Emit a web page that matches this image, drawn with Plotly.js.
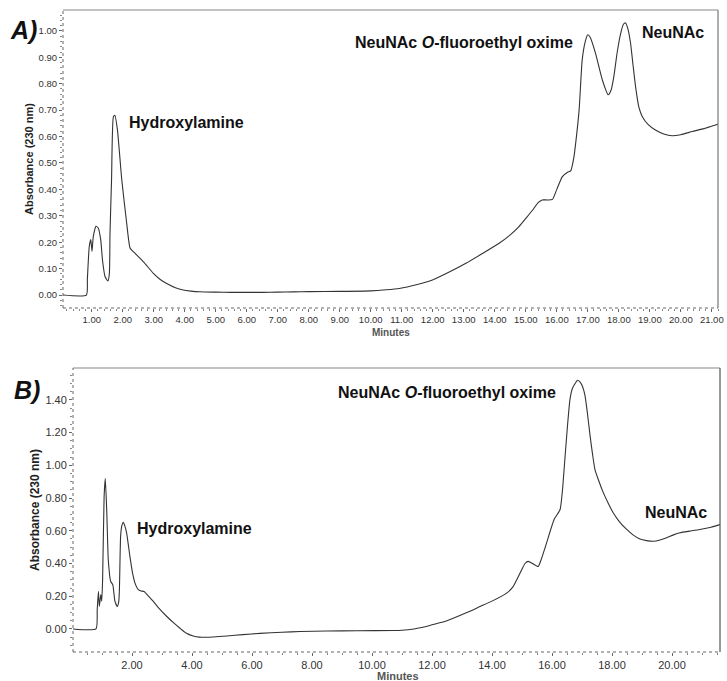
<!DOCTYPE html>
<html>
<head>
<meta charset="utf-8">
<script src="https://cdn.plot.ly/plotly-3.0.1.min.js"></script>
<style>html,body{margin:0;padding:0;background:#fff;}#chart{width:727px;height:681px;}</style>
</head>
<body>
<div id="chart"></div>
<script>
// Panel A chromatogram (minutes, absorbance)
const timeA = [0.07,0.83,0.86,0.92,0.97,1.01,1.05,1.14,1.21,1.29,1.35,1.43,1.52,1.57,1.59,1.64,1.70,1.75,1.83,1.97,2.13,2.24,2.40,2.67,2.99,3.2,3.42,3.7,3.95,4.2,4.49,5.0,5.5,6.0,6.5,7.0,7.5,8.0,9.0,10.0,10.5,10.92,11.5,11.99,12.5,13.07,13.6,14.14,14.5,14.78,15.0,15.21,15.4,15.53,15.7,15.86,16.0,16.18,16.35,16.45,16.55,16.61,16.72,16.82,16.92,17.0,17.08,17.25,17.47,17.66,17.75,17.84,17.95,18.06,18.15,18.22,18.3,18.38,18.46,18.54,18.65,18.76,18.95,19.18,19.45,19.72,20.0,20.37,20.75,21.12,21.2];
const absA = [0,0,0.06,0.183,0.21,0.165,0.22,0.26,0.254,0.21,0.13,0.07,0.053,0.082,0.234,0.436,0.675,0.68,0.625,0.436,0.27,0.177,0.158,0.126,0.082,0.06,0.044,0.028,0.019,0.015,0.0125,0.011,0.010,0.010,0.010,0.011,0.012,0.013,0.014,0.016,0.02,0.025,0.04,0.057,0.085,0.12,0.157,0.196,0.228,0.259,0.29,0.32,0.35,0.36,0.36,0.362,0.40,0.448,0.465,0.47,0.52,0.575,0.70,0.89,0.96,0.985,0.975,0.915,0.814,0.758,0.775,0.827,0.92,0.99,1.025,1.03,1.005,0.953,0.87,0.79,0.71,0.675,0.645,0.625,0.61,0.603,0.607,0.619,0.63,0.644,0.647];

// Panel B chromatogram
const timeB = [0.03,0.8,0.84,0.88,0.91,0.96,0.99,1.02,1.07,1.11,1.16,1.21,1.29,1.36,1.43,1.51,1.56,1.58,1.62,1.66,1.71,1.76,1.82,1.93,2.02,2.10,2.21,2.30,2.40,2.55,2.71,2.9,3.16,3.4,3.6,3.8,4.04,4.25,4.49,5.16,5.7,6.27,7.0,7.6,8.5,9.5,10.71,11.0,11.4,11.7,12.0,12.5,13.16,13.6,14.0,14.49,14.71,14.85,14.99,15.1,15.21,15.35,15.54,15.65,15.82,16.07,16.27,16.35,16.43,16.52,16.6,16.68,16.77,16.85,16.93,17.02,17.1,17.18,17.27,17.35,17.43,17.57,17.71,17.87,18.04,18.25,18.49,18.7,18.93,19.15,19.38,19.6,19.82,20.05,20.27,20.6,20.93,21.3,21.6];
const absB = [0,0,0.117,0.23,0.137,0.21,0.17,0.30,0.81,0.92,0.71,0.42,0.29,0.27,0.17,0.137,0.17,0.24,0.566,0.63,0.652,0.63,0.587,0.444,0.34,0.28,0.24,0.232,0.229,0.2,0.168,0.125,0.076,0.035,0.004,-0.025,-0.043,-0.05,-0.051,-0.043,-0.035,-0.027,-0.02,-0.016,-0.013,-0.011,-0.01,-0.008,0.0,0.01,0.025,0.05,0.1,0.137,0.17,0.219,0.26,0.31,0.362,0.40,0.413,0.40,0.382,0.43,0.526,0.669,0.73,0.85,1.04,1.25,1.405,1.47,1.50,1.52,1.51,1.48,1.426,1.32,1.18,1.07,0.976,0.9,0.833,0.77,0.71,0.655,0.608,0.575,0.55,0.54,0.536,0.544,0.557,0.575,0.588,0.598,0.608,0.622,0.638];

const W = 727, H = 681;
const px = v => v / W;
const py = v => 1 - v / H;

const tickFont = {family: 'Liberation Sans, Arial, sans-serif', size: 9.5, color: '#333'};
const tickFontB = {family: 'Liberation Sans, Arial, sans-serif', size: 11, color: '#333'};
const lblFont = {family: 'Liberation Sans, Arial, sans-serif', size: 16, color: '#111', weight: 'bold'};

const traces = [
  {x: timeA, y: absA, xaxis: 'x', yaxis: 'y', mode: 'lines', line: {color: '#333', width: 1.1, shape: 'spline', smoothing: 0.5}, hoverinfo: 'skip'},
  {x: timeB, y: absB, xaxis: 'x2', yaxis: 'y2', mode: 'lines', line: {color: '#333', width: 1.1, shape: 'spline', smoothing: 0.5}, hoverinfo: 'skip'}
];

const axCommon = {showgrid: false, zeroline: false, showline: false, ticks: 'outside', tickcolor: '#666', ticklen: 3, tickwidth: 1, tickformat: '.2f'};

const layout = {
  width: W, height: H,
  margin: {l: 0, r: 0, t: 0, b: 0},
  paper_bgcolor: '#fff', plot_bgcolor: '#fff',
  showlegend: false,
  xaxis: Object.assign({}, axCommon, {domain: [px(63), px(718)], range: [0.074, 21.2], tick0: 0, dtick: 1, tickfont: tickFont, anchor: 'y',
    minor: {dtick: 0.2, ticks: 'outside', ticklen: 2, tickcolor: '#888'}}),
  yaxis: Object.assign({}, axCommon, {domain: [py(308), py(10)], range: [-0.049, 1.079], tick0: 0, dtick: 0.1, tickfont: tickFont, anchor: 'x',
    minor: {dtick: 0.02, ticks: 'outside', ticklen: 2, tickcolor: '#888'}}),
  xaxis2: Object.assign({}, axCommon, {domain: [px(73), px(720)], range: [0.033, 21.6], tick0: 0, dtick: 2, tickfont: tickFontB, anchor: 'y2',
    minor: {dtick: 0.5, ticks: 'outside', ticklen: 2, tickcolor: '#888'}}),
  yaxis2: Object.assign({}, axCommon, {domain: [py(652), py(368)], range: [-0.141, 1.595], tick0: 0, dtick: 0.2, tickfont: tickFontB, anchor: 'x2',
    minor: {dtick: 0.05, ticks: 'outside', ticklen: 2, tickcolor: '#888'}}),
  shapes: [
    {type: 'line', xref: 'x domain', yref: 'y domain', x0: 0, x1: 1, y0: 1, y1: 1, line: {color: '#888', width: 1.2}},
    {type: 'line', xref: 'x domain', yref: 'y domain', x0: 1, x1: 1, y0: 0, y1: 1, line: {color: '#777', width: 1.2}},
    {type: 'line', xref: 'x domain', yref: 'y domain', x0: 0, x1: 0, y0: 0, y1: 1, line: {color: '#666', width: 1, dash: 'dot'}},
    {type: 'line', xref: 'x domain', yref: 'y domain', x0: 0, x1: 1, y0: 0, y1: 0, line: {color: '#666', width: 1, dash: 'dot'}},
    {type: 'line', xref: 'x2 domain', yref: 'y2 domain', x0: 0, x1: 1, y0: 1, y1: 1, line: {color: '#888', width: 1.2}},
    {type: 'line', xref: 'x2 domain', yref: 'y2 domain', x0: 1, x1: 1, y0: 0, y1: 1, line: {color: '#555', width: 1.2}},
    {type: 'line', xref: 'x2 domain', yref: 'y2 domain', x0: 0, x1: 0, y0: 0, y1: 1, line: {color: '#666', width: 1, dash: 'dot'}},
    {type: 'line', xref: 'x2 domain', yref: 'y2 domain', x0: 0, x1: 1, y0: 0, y1: 0, line: {color: '#666', width: 1, dash: 'dot'}}
  ],
  annotations: [
    {xref: 'paper', yref: 'paper', x: px(23), y: py(30), text: 'A)', showarrow: false, xanchor: 'center', yanchor: 'middle',
      font: {family: 'Liberation Sans, Arial, sans-serif', size: 25, color: '#111', weight: 'bold', style: 'italic'}},
    {xref: 'paper', yref: 'paper', x: px(27), y: py(390), text: 'B)', showarrow: false, xanchor: 'center', yanchor: 'middle',
      font: {family: 'Liberation Sans, Arial, sans-serif', size: 25, color: '#111', weight: 'bold', style: 'italic'}},
    {xref: 'paper', yref: 'paper', x: px(29), y: py(159), text: 'Absorbance (230 nm)', textangle: -90, showarrow: false, xanchor: 'center', yanchor: 'middle',
      font: {family: 'Liberation Sans, Arial, sans-serif', size: 11, color: '#222', weight: 'bold'}},
    {xref: 'paper', yref: 'paper', x: px(35), y: py(510), text: 'Absorbance (230 nm)', textangle: -90, showarrow: false, xanchor: 'center', yanchor: 'middle',
      font: {family: 'Liberation Sans, Arial, sans-serif', size: 12, color: '#222', weight: 'bold'}},
    {xref: 'paper', yref: 'paper', x: px(391), y: py(332), text: 'Minutes', showarrow: false, xanchor: 'center', yanchor: 'middle',
      font: {family: 'Liberation Sans, Arial, sans-serif', size: 10, color: '#555', weight: 'bold'}},
    {xref: 'paper', yref: 'paper', x: px(398), y: py(676), text: 'Minutes', showarrow: false, xanchor: 'center', yanchor: 'middle',
      font: {family: 'Liberation Sans, Arial, sans-serif', size: 11, color: '#555', weight: 'bold'}},
    {xref: 'paper', yref: 'paper', x: px(127), y: py(122), text: 'Hydroxylamine', showarrow: false, xanchor: 'left', yanchor: 'middle', font: lblFont},
    {xref: 'paper', yref: 'paper', x: px(353), y: py(42), text: 'NeuNAc <i>O</i>-fluoroethyl oxime', showarrow: false, xanchor: 'left', yanchor: 'middle', font: lblFont},
    {xref: 'paper', yref: 'paper', x: px(640), y: py(32), text: 'NeuNAc', showarrow: false, xanchor: 'left', yanchor: 'middle', font: lblFont},
    {xref: 'paper', yref: 'paper', x: px(135), y: py(528), text: 'Hydroxylamine', showarrow: false, xanchor: 'left', yanchor: 'middle', font: lblFont},
    {xref: 'paper', yref: 'paper', x: px(336), y: py(392), text: 'NeuNAc <i>O</i>-fluoroethyl oxime', showarrow: false, xanchor: 'left', yanchor: 'middle', font: lblFont},
    {xref: 'paper', yref: 'paper', x: px(643), y: py(512), text: 'NeuNAc', showarrow: false, xanchor: 'left', yanchor: 'middle', font: lblFont}
  ]
};

Plotly.newPlot('chart', traces, layout, {staticPlot: true, displayModeBar: false});
</script>
</body>
</html>
